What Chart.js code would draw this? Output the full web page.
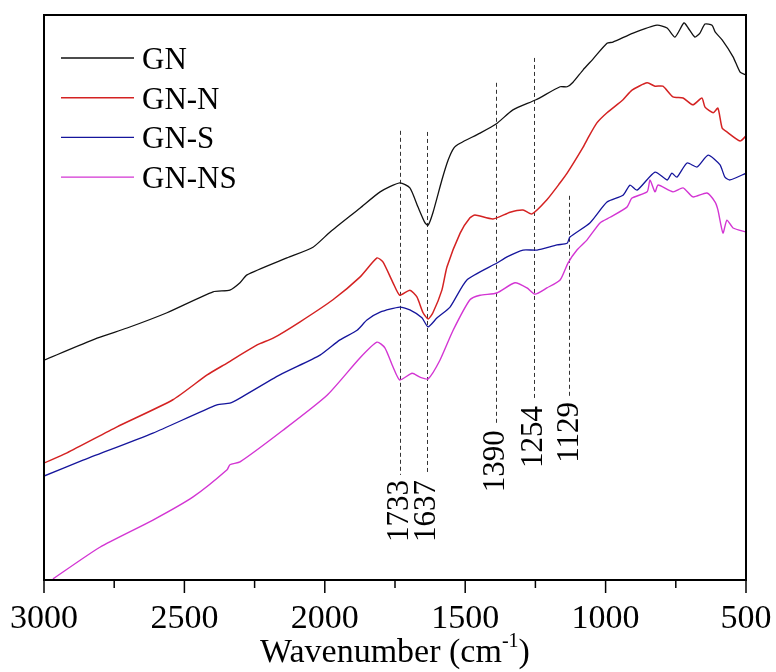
<!DOCTYPE html>
<html>
<head>
<meta charset="utf-8">
<script src="https://cdn.jsdelivr.net/npm/chart.js@4"></script>
<style>
  html, body { margin: 0; padding: 0; background: #fff; }
</style>
</head>
<body>
<canvas id="grafico" width="776" height="672"></canvas>
<script>
// espectros FTIR, valores em unidades arbitrarias (transmitancia)
const ondaGN = [3000, 2811, 2704, 2562, 2398, 2338, 2302, 2277, 2135, 2042, 1981, 1875, 1803, 1733, 1697, 1668, 1643, 1632, 1615, 1583, 1561, 1540, 1518, 1447, 1390, 1330, 1248, 1162, 1137, 1116, 1080, 1045, 995, 974, 902, 817, 781, 753, 721, 706, 682, 664, 646, 621, 610, 585, 546, 521, 500];
const valGN = [38.9, 42.8, 44.6, 47.3, 51.0, 51.3, 52.6, 54.0, 57.0, 58.9, 61.6, 65.8, 68.7, 70.3, 69.4, 66.0, 63.2, 62.8, 65.0, 70.8, 74.3, 76.5, 77.3, 79.1, 80.7, 83.2, 85.0, 87.3, 87.3, 88.1, 90.3, 92.2, 95.0, 95.2, 96.8, 98.2, 97.7, 96.1, 98.6, 97.7, 96.1, 96.8, 98.4, 98.2, 97.0, 95.6, 92.6, 89.9, 89.4];

const ondaGNN = [3000, 2918, 2740, 2541, 2419, 2348, 2241, 2184, 2088, 1971, 1875, 1814, 1793, 1757, 1733, 1697, 1672, 1650, 1632, 1615, 1583, 1565, 1518, 1483, 1465, 1401, 1340, 1294, 1262, 1209, 1162, 1137, 1080, 1063, 1031, 995, 938, 906, 852, 824, 796, 760, 724, 689, 657, 646, 617, 600, 585, 568, 521, 500];
const valGNN = [20.7, 22.5, 27.1, 31.9, 36.3, 38.4, 41.6, 42.8, 45.7, 49.6, 53.6, 57.0, 56.3, 52.6, 50.4, 51.3, 50.1, 47.3, 46.2, 47.3, 51.3, 55.4, 61.4, 64.1, 64.6, 63.9, 65.1, 65.5, 64.8, 67.3, 70.3, 72.0, 76.6, 78.2, 80.9, 82.7, 85.0, 86.7, 88.0, 87.4, 87.4, 85.5, 85.3, 84.1, 85.3, 83.7, 82.7, 83.5, 80.0, 79.3, 77.7, 78.6];

const ondaGNS = [3000, 2861, 2612, 2384, 2338, 2302, 2160, 2017, 1946, 1885, 1850, 1803, 1733, 1697, 1654, 1632, 1600, 1554, 1494, 1387, 1351, 1294, 1244, 1173, 1137, 1127, 1056, 995, 938, 913, 888, 824, 781, 764, 746, 710, 674, 635, 593, 575, 557, 500];
const valGNS = [18.4, 21.2, 26.0, 31.0, 31.3, 32.2, 36.3, 39.8, 42.5, 44.2, 46.0, 47.4, 48.3, 47.8, 46.4, 44.8, 46.4, 48.3, 53.1, 56.1, 57.2, 58.4, 58.4, 59.3, 59.6, 60.7, 63.2, 66.9, 68.1, 69.9, 69.0, 72.2, 70.8, 72.0, 71.3, 73.8, 73.1, 75.2, 73.5, 71.3, 70.8, 72.0];

const ondaGNNS = [2968, 2801, 2612, 2469, 2348, 2338, 2302, 2149, 1992, 1875, 1814, 1786, 1757, 1733, 1689, 1661, 1632, 1590, 1543, 1483, 1447, 1387, 1323, 1280, 1251, 1209, 1162, 1134, 1102, 1066, 1020, 984, 924, 906, 852, 842, 824, 813, 760, 724, 689, 639, 610, 600, 582, 568, 546, 500];
const valGNNS = [0.2, 5.8, 10.6, 14.7, 19.5, 20.4, 20.9, 26.5, 32.7, 39.3, 42.1, 41.1, 37.7, 35.4, 36.6, 35.9, 35.6, 38.9, 44.2, 49.6, 50.4, 50.8, 52.6, 51.7, 50.6, 51.7, 53.1, 56.1, 58.4, 60.2, 63.2, 64.2, 66.0, 67.6, 68.7, 70.8, 68.7, 69.9, 68.7, 69.4, 67.8, 68.5, 66.9, 65.5, 61.4, 63.7, 62.3, 61.6];

// bandas marcadas (cm-1) e alcance das linhas tracejadas em unidades do eixo y
const picos = [1733, 1637, 1390, 1254, 1129];
const picoTopo = [79.5, 79.3, 88.0, 92.4, 68.0];
const picoBase = [18.6, 18.6, 27.4, 31.7, 32.4];

const fonte = '"Liberation Serif", "Times New Roman", serif';

function pontos(onda, val) {
  return onda.map((w, i) => ({ x: w, y: val[i] }));
}

function serie(nome, onda, val, cor, largura) {
  return {
    label: nome,
    data: pontos(onda, val),
    borderColor: cor,
    borderWidth: largura,
    pointRadius: 0,
    tension: 0.2,
    fill: false
  };
}

const desenho = {
  id: 'desenho',
  beforeDatasetsDraw(chart) {
    const ctx = chart.ctx;
    const x = chart.scales.x, y = chart.scales.y;
    ctx.save();
    ctx.strokeStyle = '#333';
    ctx.lineWidth = 1;
    ctx.setLineDash([4, 3]);
    picos.forEach((p, i) => {
      const px = Math.round(x.getPixelForValue(p)) + 0.5;
      ctx.beginPath();
      ctx.moveTo(px, y.getPixelForValue(picoTopo[i]));
      ctx.lineTo(px, y.getPixelForValue(picoBase[i]));
      ctx.stroke();
    });
    ctx.restore();
  },
  afterDraw(chart) {
    const ctx = chart.ctx;
    const a = chart.chartArea;
    const x = chart.scales.x, y = chart.scales.y;
    ctx.save();
    ctx.fillStyle = '#000';

    // numeros das bandas, girados
    ctx.font = '31px ' + fonte;
    ctx.textAlign = 'right';
    ctx.textBaseline = 'middle';
    picos.forEach((p, i) => {
      ctx.save();
      ctx.translate(x.getPixelForValue(p), y.getPixelForValue(picoBase[i]) + 5);
      ctx.rotate(-Math.PI / 2);
      ctx.fillText(String(p), 0, 0);
      ctx.restore();
    });

    // moldura
    ctx.strokeStyle = '#000';
    ctx.lineWidth = 2;
    ctx.strokeRect(a.left, a.top, a.right - a.left, a.bottom - a.top);

    // marcas e rotulos do eixo x
    ctx.lineWidth = 1.5;
    ctx.font = '34px ' + fonte;
    ctx.textAlign = 'center';
    ctx.textBaseline = 'alphabetic';
    x.ticks.forEach(t => {
      const px = x.getPixelForValue(t.value);
      const maior = t.value % 500 === 0;
      ctx.beginPath();
      ctx.moveTo(px, a.bottom);
      ctx.lineTo(px, a.bottom + (maior ? 13 : 8));
      ctx.stroke();
      if (maior) ctx.fillText(String(t.value), px, a.bottom + 48);
    });

    // legenda
    ctx.font = '31px ' + fonte;
    ctx.textAlign = 'left';
    chart.data.datasets.forEach((ds, i) => {
      const ly = a.top + 43 + i * 39.7;
      ctx.strokeStyle = ds.borderColor;
      ctx.lineWidth = ds.borderWidth;
      ctx.beginPath();
      ctx.moveTo(a.left + 17, ly);
      ctx.lineTo(a.left + 90, ly);
      ctx.stroke();
      ctx.fillText(ds.label, a.left + 98, ly + 11);
    });

    // titulo do eixo x com expoente
    const cx = (a.left + a.right) / 2;
    const base = a.bottom + 82;
    ctx.font = '34px ' + fonte;
    const t1 = 'Wavenumber (cm', t3 = ')';
    const w1 = ctx.measureText(t1).width, w3 = ctx.measureText(t3).width;
    ctx.font = '20px ' + fonte;
    const w2 = ctx.measureText('-1').width;
    const sx = cx - (w1 + w2 + w3) / 2;
    ctx.font = '34px ' + fonte;
    ctx.fillText(t1, sx, base);
    ctx.font = '20px ' + fonte;
    ctx.fillText('-1', sx + w1, base - 15);
    ctx.font = '34px ' + fonte;
    ctx.fillText(t3, sx + w1 + w2, base);
    ctx.restore();
  }
};

new Chart(document.getElementById('grafico'), {
  type: 'line',
  data: {
    datasets: [
      serie('GN', ondaGN, valGN, '#111111', 1.3),
      serie('GN-N', ondaGNN, valGNN, '#d42222', 1.5),
      serie('GN-S', ondaGNS, valGNS, '#15159c', 1.3),
      serie('GN-NS', ondaGNNS, valGNNS, '#d335d3', 1.4)
    ]
  },
  options: {
    responsive: false,
    animation: false,
    maintainAspectRatio: false,
    layout: { padding: { left: 44, right: 30, top: 15, bottom: 0 } },
    plugins: {
      legend: { display: false },
      title: { display: false },
      tooltip: { enabled: false }
    },
    scales: {
      x: {
        type: 'linear',
        reverse: true,
        min: 500,
        max: 3000,
        grid: { display: false, drawTicks: false },
        border: { display: false },
        ticks: { display: false, stepSize: 250, autoSkip: false },
        afterFit: s => { s.height = 92; }
      },
      y: {
        display: false,
        min: 0,
        max: 100
      }
    }
  },
  plugins: [desenho]
});
</script>
</body>
</html>
